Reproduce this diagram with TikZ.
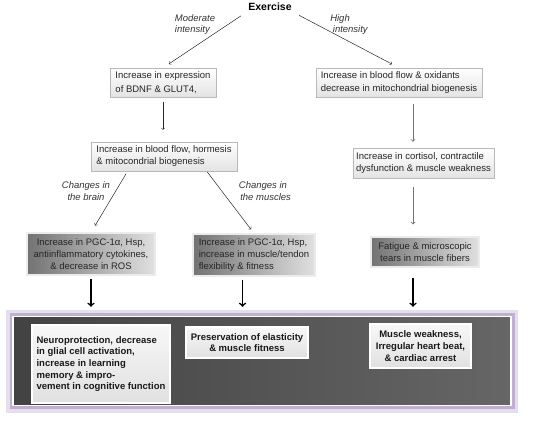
\documentclass[tikz,border=0pt]{standalone}
\usepackage{fontspec}
\setmainfont{Liberation Sans}
\definecolor{glow}{RGB}{150,122,178}

\begin{document}
\begin{tikzpicture}[x=1pt, y=-1pt, every node/.style={font=\fontsize{9.5}{12}\selectfont, inner xsep=3pt, inner ysep=2pt, text=black!85},
  lbox/.style={draw=gray!55, top color=white, bottom color=gray!22},
  dbox/.style={draw=gray!15, line width=1.2pt, left color=black!55, right color=black!12},
  rbox/.style={draw=white, line width=1.2pt, top color=gray!6, bottom color=gray!24, font=\bfseries\fontsize{9.5}{11.7}\selectfont, text=black!90},
  lab/.style={font=\itshape\fontsize{9.5}{11.5}\selectfont, align=left, inner sep=0pt, text=black!80},
  flow/.style={->, black!85, line width=0.5pt},
  grayflow/.style={->, black!55, line width=0.8pt},
  bigflow/.style={->, black, line width=1.6pt}]
  \useasboundingbox (0,0) rectangle (553,420);
  \node (pan) [minimum width=498, minimum height=89, draw=white, line width=1.4pt, left color=black!74, right color=black!60,
    preaction={draw=glow!25, line width=14pt}, preaction={draw=glow!60, line width=7pt}] at (262,361) {};
  \node (ex) [font=\bfseries\fontsize{10.5}{12}\selectfont, text=black] at (270,7) {Exercise};
  \node (b1) [lbox, minimum width=106, minimum height=29, align=left, font=\fontsize{9.5}{13.5}\selectfont] at (163,82.5) {Increase in expression\\of BDNF \& GLUT4,};
  \node (b2) [lbox, minimum width=166, minimum height=29, align=left, font=\fontsize{9.5}{13.5}\selectfont] at (399,82.5) {Increase in blood flow \& oxidants\\decrease in mitochondrial biogenesis};
  \node (b3) [lbox, minimum width=146, minimum height=29, align=left] at (164,156.5) {Increase in blood flow, hormesis\\\& mitocondrial biogenesis};
  \node (b4) [lbox, minimum width=141, minimum height=30, align=left] at (423.5,163) {Increase in cortisol, contractile\\dysfunction \& muscle weakness};
  \node (b5) [dbox, minimum width=128, minimum height=42, align=center] at (91,254) {Increase in PGC-1α, Hsp,\\antiinflammatory cytokines,\\\& decrease in ROS};
  \node (b6) [dbox, minimum width=122, minimum height=42, align=left] at (254,255) {Increase in PGC-1α, Hsp,\\increase in muscle/tendon\\flexibility \& fitness};
  \node (b7) [dbox, minimum width=108, minimum height=30, align=center] at (425,252) {Fatigue \& microscopic\\tears in muscle fibers};
  \node (b8) [rbox, minimum width=138, minimum height=78, align=left] at (101,364) {Neuroprotection, decrease\\in glial cell activation,\\increase in learning\\memory \& impro-\\vement in cognitive function};
  \node (b9) [rbox, minimum width=122, minimum height=31, align=center] at (247,342.5) {Preservation of elasticity\\\& muscle fitness};
  \node (b10) [rbox, minimum width=101, minimum height=44, align=center] at (420.5,346) {Muscle weakness,\\Irregular heart beat,\\\& cardiac arrest};
  \node (l1) [lab] at (195,24.5) {Moderate\\intensity};
  \node (l2) [lab] at (349,24.5) {High\\\ intensity};
  \node (l3) [lab, align=center] at (86,191) {Changes in\\the brain};
  \node (l4) [lab, align=center] at (263,191) {Changes in\\\ \ the muscles};
  \coordinate (rc) at (413,0);
  \draw[flow, shorten <=5pt, shorten >=7pt] (ex.south west) -- (b1.north);
  \draw[flow, shorten <=5pt, shorten >=8pt] (ex.south east) -- (b2.north);
  \draw[flow, shorten <=5pt, shorten >=12pt] (b1.south) -- (b1.south |- b3.north);
  \draw[flow, shorten <=3pt, shorten >=8pt] (b3.202) -- (b5.north);
  \draw[flow, shorten <=1pt, shorten >=5pt] (b3.341) -- (b6.north);
  \draw[grayflow, shorten <=7pt, shorten >=6pt] (b2.south -| rc) -- (b4.north -| rc);
  \draw[grayflow, shorten <=9pt, shorten >=12pt] (b4.south -| rc) -- (b7.north -| rc);
  \draw[bigflow, shorten <=3pt, shorten >=9pt] (b5.south) -- (b5.south |- pan.north);
  \draw[bigflow, shorten <=3pt, shorten >=9pt] (b6.242) -- (b6.242 |- pan.north);
  \draw[bigflow, shorten <=10pt, shorten >=9pt] (b7.south -| rc) -- (rc |- pan.north);
\end{tikzpicture}
\end{document}
